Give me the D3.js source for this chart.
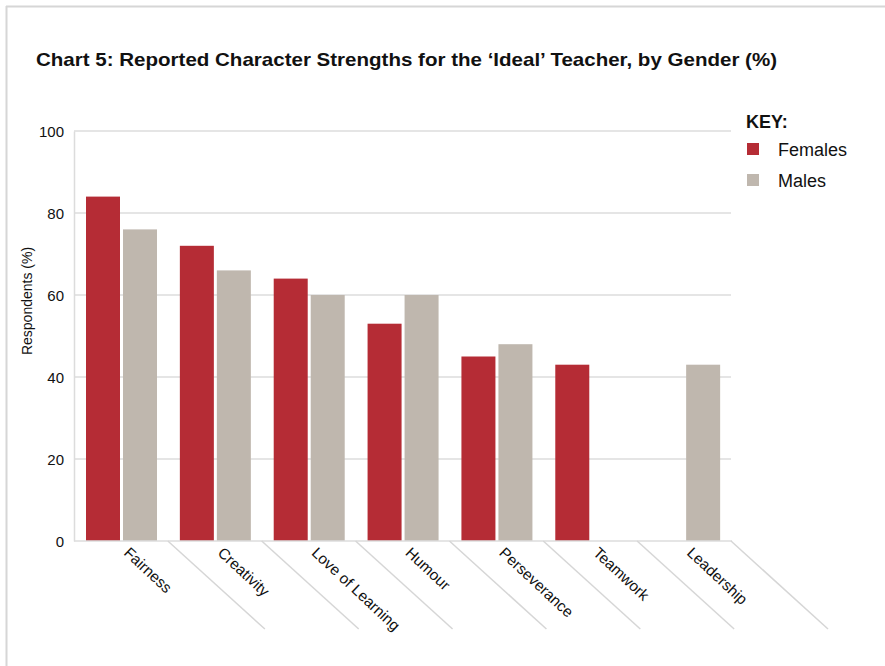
<!DOCTYPE html>
<html>
<head>
<meta charset="utf-8">
<script src="https://cdn.jsdelivr.net/npm/d3@7"></script>
<style>
  body { margin: 0; background: #fff; }
  svg { display: block; font-family: "Liberation Sans", Arial, sans-serif; }
</style>
</head>
<body>
<script>
/*** DATA ***/
const categories = ["Fairness", "Creativity", "Love of Learning", "Humour", "Perseverance", "Teamwork", "Leadership"];
const females = [84, 72, 64, 53, 45, 43, null];
const males = [76, 66, 60, 60, 48, null, 43];
const yTicks = [0, 20, 40, 60, 80, 100];
const seriesNames = ["Females", "Males"];
const seriesColors = ["#b52c35", "#bfb7ae"];

/*** GRAPH ***/
const W = 885, H = 666;
const plot = { left: 74, right: 731, top: 131, bottom: 541 };

const svg = d3.select("body").append("svg")
  .attr("width", W)
  .attr("height", H);

/* cadre gris haut + gauche */
svg.append("line").attr("x1", 6).attr("x2", W).attr("y1", 6.5).attr("y2", 6.5)
  .attr("stroke", "#d6d6d6").attr("stroke-width", 2);
svg.append("line").attr("x1", 6.5).attr("x2", 6.5).attr("y1", 6).attr("y2", H)
  .attr("stroke", "#d6d6d6").attr("stroke-width", 2);

/* échelles */
const x = d3.scaleBand()
  .domain(categories)
  .range([plot.left, plot.right]);

const x1 = d3.scaleBand()
  .domain(seriesNames)
  .range([12, 12 + 34 * 2 + 3])
  .paddingInner(3 / 37);

const y = d3.scaleLinear()
  .domain([0, 100])
  .range([plot.bottom, plot.top]);

/* grille */
svg.append("g")
  .selectAll("line")
  .data(yTicks.filter(d => d > 0))
  .join("line")
  .attr("x1", plot.left).attr("x2", plot.right)
  .attr("y1", d => y(d)).attr("y2", d => y(d))
  .attr("stroke", "#dcdcdc").attr("stroke-width", 1.5);

/* axe y */
const yAxis = d3.axisLeft(y).tickValues(yTicks).tickSize(0).tickPadding(10);
svg.append("g")
  .attr("transform", "translate(" + plot.left + ",0)")
  .call(yAxis)
  .call(g => g.select(".domain").attr("stroke", "#dcdcdc").attr("stroke-width", 1.5))
  .call(g => g.selectAll("text").attr("font-size", 15).attr("fill", "#111")
    .attr("font-family", "Liberation Sans, Arial, sans-serif")
    .attr("dy", "0.38em"));

svg.append("text")
  .attr("transform", "translate(32," + 301 + ") rotate(-90)")
  .attr("text-anchor", "middle")
  .attr("font-size", 14)
  .attr("fill", "#111")
  .text("Respondents (%)");

/* barres */
const rows = categories.map((c, i) => ({ cat: c, vals: [females[i], males[i]] }));
svg.append("g")
  .selectAll("g")
  .data(rows)
  .join("g")
  .attr("transform", d => "translate(" + x(d.cat) + ",0)")
  .selectAll("rect")
  .data(d => d.vals.map((v, j) => ({ name: seriesNames[j], v: v, j: j })).filter(e => e.v != null))
  .join("rect")
  .attr("x", d => x1(d.name))
  .attr("width", x1.bandwidth())
  .attr("y", d => y(d.v))
  .attr("height", d => y(0) - y(d.v))
  .attr("fill", d => seriesColors[d.j]);

/* axe x : ligne de base + diagonales */
svg.append("line")
  .attr("x1", plot.left).attr("x2", plot.right + 1)
  .attr("y1", plot.bottom).attr("y2", plot.bottom)
  .attr("stroke", "#dcdcdc").attr("stroke-width", 1.5);

svg.append("g")
  .selectAll("line")
  .data(categories)
  .join("line")
  .attr("x1", d => x(d) + x.bandwidth())
  .attr("y1", plot.bottom)
  .attr("x2", d => x(d) + x.bandwidth() + 97)
  .attr("y2", plot.bottom + 88)
  .attr("stroke", "#d6d6d6").attr("stroke-width", 1.5);

svg.append("g")
  .selectAll("text")
  .data(categories)
  .join("text")
  .attr("transform", d => "translate(" + (x(d) + x.bandwidth() / 2 + 2) + "," + 554 + ") rotate(43)")
  .attr("font-size", 15.3)
  .attr("fill", "#111")
  .text(d => d);

/* Titre */
svg.append("text")
  .attr("x", 36)
  .attr("y", 66)
  .attr("font-size", 18.5)
  .attr("font-weight", "bold")
  .attr("fill", "#111")
  .attr("textLength", 741)
  .attr("lengthAdjust", "spacingAndGlyphs")
  .text("Chart 5: Reported Character Strengths for the \u2018Ideal\u2019 Teacher, by Gender (%)");

/* légende */
svg.append("text")
  .attr("x", 746)
  .attr("y", 128)
  .attr("font-size", 18)
  .attr("font-weight", "bold")
  .attr("fill", "#111")
  .text("KEY:");

const legend = svg.append("g")
  .selectAll("g")
  .data(seriesNames)
  .join("g")
  .attr("transform", (d, i) => "translate(747," + (143 + i * 31) + ")");

legend.append("rect")
  .attr("width", 12).attr("height", 12)
  .attr("fill", (d, i) => seriesColors[i]);

legend.append("text")
  .attr("x", 31)
  .attr("y", 13)
  .attr("font-size", 18)
  .attr("fill", "#111")
  .text(d => d);
</script>
</body>
</html>
